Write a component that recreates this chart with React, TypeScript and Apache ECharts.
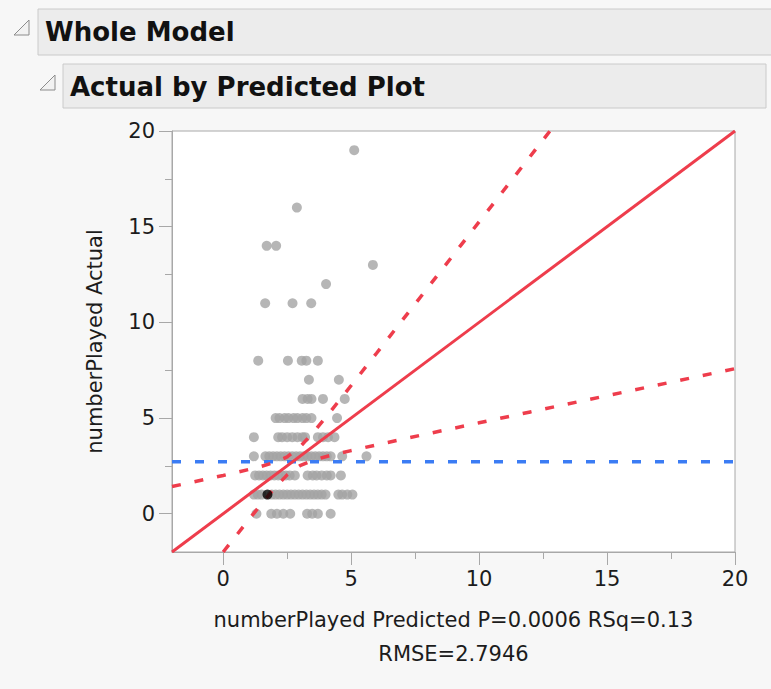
import React, { useEffect, useRef } from "react";
import * as echarts from "echarts";

const axisMin = -2;
const axisMax = 20;
const majorTicks = [0, 5, 10, 15, 20];
const minorTicks = [2.5, 7.5, 12.5, 17.5];

// predicted values of the points, grouped by their (integer) actual value
const actualLevels = [0, 1, 2, 3, 4, 5, 6, 7, 8, 11, 12, 13, 14, 16, 19];
const predicted0 = [1.3, 1.88, 2.1, 2.35, 2.62, 3.28, 3.48, 3.7, 4.2];
const predicted1 = [1.2, 1.35, 1.5, 1.9, 2.05, 2.2, 2.35, 2.5, 2.65, 2.8, 2.95, 3.1, 3.25, 3.4, 3.55, 3.7, 3.85, 4.0, 4.5, 4.65, 4.85, 5.05];
const predicted2 = [1.25, 1.4, 1.55, 1.7, 1.85, 2.0, 2.15, 2.3, 2.45, 2.6, 2.8, 3.3, 3.5, 3.65, 3.85, 4.05, 4.2, 4.6];
const predicted3 = [1.2, 1.65, 1.8, 1.95, 2.1, 2.25, 2.4, 2.55, 2.7, 2.85, 3.0, 3.15, 3.3, 3.45, 3.6, 3.75, 3.9, 4.05, 4.2, 4.65, 5.6];
const predicted4 = [1.2, 2.15, 2.3, 2.5, 2.7, 2.9, 3.1, 3.2, 3.7, 3.9, 4.1, 4.35];
const predicted5 = [2.05, 2.2, 2.4, 2.55, 2.75, 2.9, 3.1, 3.25, 3.45, 4.45];
const predicted6 = [3.1, 3.3, 3.45, 3.9, 4.75];
const predicted7 = [3.35, 4.52];
const predicted8 = [1.37, 2.53, 3.07, 3.25, 3.7];
const predicted11 = [1.64, 2.71, 3.44];
const predicted12 = [4.02];
const predicted13 = [5.85];
const predicted14 = [1.7, 2.07];
const predicted16 = [2.88];
const predicted19 = [5.12];
const predictedByLevel = [
  predicted0, predicted1, predicted2, predicted3, predicted4, predicted5, predicted6,
  predicted7, predicted8, predicted11, predicted12, predicted13, predicted14, predicted16, predicted19,
];

const highlightedPoint = [1.73, 1];
const meanActual = 2.72;

const fitLineX = [-2, 20];
const fitLineY = [-2, 20];

const upperCurveX = [-2, -1, 0, 1, 1.5, 2, 2.5, 3, 3.5, 4, 5, 6, 7, 8, 10, 12.77];
const upperCurveY = [1.42, 1.71, 2.0, 2.31, 2.48, 2.68, 2.97, 3.49, 4.22, 5.02, 6.7, 8.4, 10.11, 11.82, 15.25, 20];
const lowerCurveX = [0, 0.5, 1, 1.5, 2, 2.5, 3, 3.5, 4, 5, 6, 7, 8, 10, 12, 15, 20];
const lowerCurveY = [-2.0, -1.16, -0.31, 0.52, 1.32, 2.03, 2.51, 2.78, 2.98, 3.3, 3.6, 3.89, 4.18, 4.75, 5.32, 6.17, 7.58];

const FONT = "DejaVu Sans";
const RED = "#ee3d4c";
const BLUE = "#3b7cf4";
const AXIS_GRAY = "#a8a8a8";
const TEXT = "#1c1c1c";
const DASH = [9, 14];

export default function App() {
  const ref = useRef<HTMLDivElement>(null);

  useEffect(() => {
    if (!ref.current) return;
    const chart = echarts.init(ref.current, undefined, { renderer: "svg" });

    const scatterData: number[][] = [];
    actualLevels.forEach((a, i) => {
      predictedByLevel[i].forEach((p) => scatterData.push([p, a]));
    });

    const zip = (xs: number[], ys: number[]) => xs.map((x, i) => [x, ys[i]]);

    const valueAxisBase = {
      type: "value",
      min: axisMin,
      max: axisMax,
      splitLine: { show: false },
    };

    const option: any = {
      animation: false,
      backgroundColor: "#f7f7f7",
      grid: {
        left: 172,
        top: 131,
        width: 563,
        height: 421,
        show: true,
        backgroundColor: "#ffffff",
        borderColor: AXIS_GRAY,
        borderWidth: 1,
      },
      xAxis: [
        {
          ...valueAxisBase,
          position: "bottom",
          axisLine: { show: true, onZero: false, lineStyle: { color: AXIS_GRAY, width: 1 } },
          axisTick: { show: true, length: 13, customValues: majorTicks, lineStyle: { color: AXIS_GRAY } },
          axisLabel: {
            customValues: majorTicks,
            margin: 16,
            fontFamily: FONT,
            fontSize: 21,
            color: TEXT,
          },
          name: "numberPlayed Predicted P=0.0006 RSq=0.13\nRMSE=2.7946",
          nameLocation: "middle",
          nameGap: 51,
          nameTextStyle: { fontFamily: FONT, fontSize: 21, color: TEXT, lineHeight: 34 },
        },
        {
          ...valueAxisBase,
          position: "bottom",
          axisLine: { show: false, onZero: false },
          axisTick: { show: true, length: 7, customValues: minorTicks, lineStyle: { color: AXIS_GRAY } },
          axisLabel: { show: false },
        },
      ],
      yAxis: [
        {
          ...valueAxisBase,
          position: "left",
          axisLine: { show: true, onZero: false, lineStyle: { color: AXIS_GRAY, width: 1 } },
          axisTick: { show: true, length: 13, customValues: majorTicks, lineStyle: { color: AXIS_GRAY } },
          axisLabel: {
            customValues: majorTicks,
            margin: 17,
            fontFamily: FONT,
            fontSize: 21,
            color: TEXT,
          },
          name: "numberPlayed Actual",
          nameLocation: "middle",
          nameGap: 67,
          nameTextStyle: { fontFamily: FONT, fontSize: 21, color: TEXT },
        },
        {
          ...valueAxisBase,
          position: "left",
          axisLine: { show: false, onZero: false },
          axisTick: { show: true, length: 7, customValues: minorTicks, lineStyle: { color: AXIS_GRAY } },
          axisLabel: { show: false },
        },
      ],
      graphic: [
        {
          type: "rect",
          shape: { x: 38, y: 9, width: 745, height: 46 },
          style: { fill: "#ececec", stroke: "#cacaca", lineWidth: 1 },
        },
        {
          type: "polygon",
          shape: { points: [[29, 20], [29, 35], [14, 35]] },
          style: { fill: "#f2f2f2", stroke: "#8c8c8c", lineWidth: 1 },
        },
        {
          type: "text",
          x: 45,
          y: 32,
          style: {
            text: "Whole Model",
            font: `bold 26px "${FONT}"`,
            fill: "#111111",
            verticalAlign: "middle",
          },
        },
        {
          type: "rect",
          shape: { x: 63, y: 64, width: 703, height: 44 },
          style: { fill: "#ececec", stroke: "#cacaca", lineWidth: 1 },
        },
        {
          type: "polygon",
          shape: { points: [[55, 75], [55, 90], [40, 90]] },
          style: { fill: "#f2f2f2", stroke: "#8c8c8c", lineWidth: 1 },
        },
        {
          type: "text",
          x: 70,
          y: 87,
          style: {
            text: "Actual by Predicted Plot",
            font: `bold 26px "${FONT}"`,
            fill: "#111111",
            verticalAlign: "middle",
          },
        },
      ],
      series: [
        {
          type: "scatter",
          data: scatterData,
          symbol: "circle",
          symbolSize: 10,
          itemStyle: { color: "#a4a4a4" },
          silent: true,
          z: 2,
        },
        {
          type: "line",
          data: [[axisMin, meanActual], [axisMax, meanActual]],
          showSymbol: false,
          lineStyle: { color: BLUE, width: 3.5, type: DASH },
          silent: true,
          z: 3,
        },
        {
          type: "line",
          data: zip(fitLineX, fitLineY),
          showSymbol: false,
          lineStyle: { color: RED, width: 3 },
          silent: true,
          z: 3,
        },
        {
          type: "line",
          data: zip(upperCurveX, upperCurveY),
          showSymbol: false,
          clip: true,
          lineStyle: { color: RED, width: 3.5, type: DASH },
          silent: true,
          z: 3,
        },
        {
          type: "line",
          data: zip(lowerCurveX, lowerCurveY),
          showSymbol: false,
          clip: true,
          lineStyle: { color: RED, width: 3.5, type: DASH },
          silent: true,
          z: 3,
        },
        {
          type: "scatter",
          data: [highlightedPoint],
          symbol: "circle",
          symbolSize: 10,
          itemStyle: { color: "#000000" },
          silent: true,
          z: 4,
        },
      ],
    };

    chart.setOption(option);
    return () => chart.dispose();
  }, []);

  return (
    <div
      ref={ref}
      style={{ position: "absolute", left: 0, top: 0, width: 771, height: 689 }}
    />
  );
}
